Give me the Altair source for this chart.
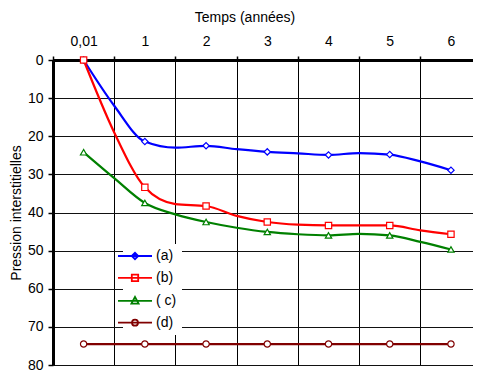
import altair as alt
import pandas as pd

# ---- data ----
tick_labels = ["0,01", "1", "2", "3", "4", "5", "6"]
series = ["(a)", "(b)", "( c)", "(d)"]
colors = ["#0000FF", "#FF0000", "#008000", "#800000"]
shapes = ["diamond", "square", "triangle-up", "circle"]

# positions along the category axis (0 = "0,01", 1 = "1", ...); half positions are
# points read on the smoothed curves between markers
curve_pos = [0, 0.5, 1, 1.5, 2, 2.5, 3, 3.5, 4, 4.5, 5, 5.5, 6]
a_curve = [0, 12.0, 21.4, 23.0, 22.5, 23.4, 24.1, 24.5, 24.9, 24.4, 24.8, 26.6, 28.9]
b_curve = [0, 19.0, 33.4, 37.8, 38.3, 40.9, 42.5, 43.2, 43.4, 43.4, 43.4, 44.7, 45.7]
c_curve = [24.2, 31.0, 37.5, 40.5, 42.5, 44.0, 45.1, 45.7, 46.0, 45.6, 46.0, 47.7, 49.7]
d_curve = [74.5, 74.5, 74.5, 74.5, 74.5, 74.5, 74.5, 74.5, 74.5, 74.5, 74.5, 74.5, 74.5]

y_ticks = [0, 10, 20, 30, 40, 50, 60, 70, 80]
x_bounds = [-0.5, 0.5, 1.5, 2.5, 3.5, 4.5, 5.5]

rows = []
for s, vals in zip(series, [a_curve, b_curve, c_curve, d_curve]):
    for p, v in zip(curve_pos, vals):
        rows.append({"pos": p, "val": v, "serie": s, "mk": s,
                     "marker": float(p).is_integer()})
df = pd.DataFrame(rows)

# ---- layout ----
W, H = 420, 305
x_dom = [-0.5, 6.36]
step = W / (x_dom[1] - x_dom[0])
FONT = "Liberation Sans"

label_expr = "[" + ",".join("'%s'" % t for t in tick_labels) + "][datum.value + 0.5]"

# legend symbols: a line with the marker on it
leg_paths = {
    "(a)": "M-4.25,0H4.25M-0.8,0L0,-0.8L0.8,0L0,0.8Z",
    "(b)": "M-4.25,0H4.25M-0.8,-0.8H0.8V0.8H-0.8Z",
    "( c)": "M-4.25,0H4.25M0,-0.95L0.9,0.7H-0.9Z",
    "(d)": "M-4.25,0H4.25M-0.75,0A0.75,0.75 0 1,0 0.75,0A0.75,0.75 0 1,0 -0.75,0Z",
}
sym_expr = ""
for s in series[:-1]:
    sym_expr += "datum.value === '%s' ? '%s' : " % (s, leg_paths[s])
sym_expr += "'%s'" % leg_paths[series[-1]]

color_scale = alt.Scale(domain=series, range=colors)
shape_scale = alt.Scale(domain=series, range=shapes)

x_enc = alt.X(
    "pos:Q",
    scale=alt.Scale(domain=x_dom, nice=False, zero=False),
    axis=alt.Axis(
        orient="top",
        values=x_bounds,
        labelExpr=label_expr,
        labelOffset=step / 2,
        labelFlush=False,
        labelOverlap=False,
        labelBaseline="alphabetic",
        labelPadding=11,
        labelFontSize=14,
        labelFont=FONT,
        labelColor="#000",
        grid=True,
        gridColor="#000",
        gridWidth=1,
        tickSize=4,
        tickWidth=1.5,
        tickColor="#000",
        domainColor="#000",
        domainWidth=3,
        title="Temps (années)",
        titleFont=FONT,
        titleFontSize=14,
        titleFontWeight="normal",
        titleColor="#000",
        titleX=191.5,
        titleY=-39,
        titleAlign="center",
        titleBaseline="alphabetic",
    ),
)
y_enc = alt.Y(
    "val:Q",
    scale=alt.Scale(domain=[0, 80], reverse=True, nice=False, zero=False),
    axis=alt.Axis(
        values=y_ticks,
        labelFontSize=14,
        labelFont=FONT,
        labelColor="#000",
        labelPadding=5,
        grid=True,
        gridColor="#111",
        gridWidth=1,
        tickSize=5,
        tickWidth=1.5,
        tickColor="#000",
        domainColor="#000",
        domainWidth=3,
        title="Pression interstitielles",
        titleFont=FONT,
        titleFontSize=14,
        titleFontWeight="normal",
        titleColor="#000",
        titleX=-36.5,
        titleY=H / 2,
        titleBaseline="middle",
        titleAlign="center",
    ),
)

base = alt.Chart(df)

lines = base.mark_line(interpolate="monotone", strokeWidth=2.2).encode(
    x=x_enc,
    y=y_enc,
    color=alt.Color(
        "serie:N",
        scale=color_scale,
        legend=alt.Legend(
            orient="none",
            legendX=70,
            legendY=184,
            title=None,
            fillColor="white",
            padding=5,
            symbolType=alt.ExprRef(expr=sym_expr),
            symbolSize=64,
            symbolStrokeWidth=1.8,
            symbolFillColor="white",
            symbolOpacity=1,
            labelFont=FONT,
            labelFontSize=14,
            labelColor="#000",
            labelOffset=14,
            rowPadding=7.9,
            zindex=1,
        ),
    ),
    detail="serie:N",
)

points = base.transform_filter("datum.marker").mark_point(
    size=40, strokeWidth=1.2, fill="white", opacity=1
).encode(
    x=x_enc,
    y=y_enc,
    stroke=alt.Stroke("mk:N", scale=color_scale, legend=None),
    shape=alt.Shape("mk:N", scale=shape_scale, legend=None),
)

chart = (
    alt.layer(lines, points)
    .resolve_scale(shape="independent", stroke="independent")
    .properties(
        width=W,
        height=H,
        padding={"left": 45, "top": 52, "right": 0, "bottom": 8},
        autosize=alt.AutoSizeParams(type="none"),
        background="white",
    )
    .configure_view(strokeWidth=0)
)

chart.save("out.html", embed_options={"renderer": "svg", "actions": False})
